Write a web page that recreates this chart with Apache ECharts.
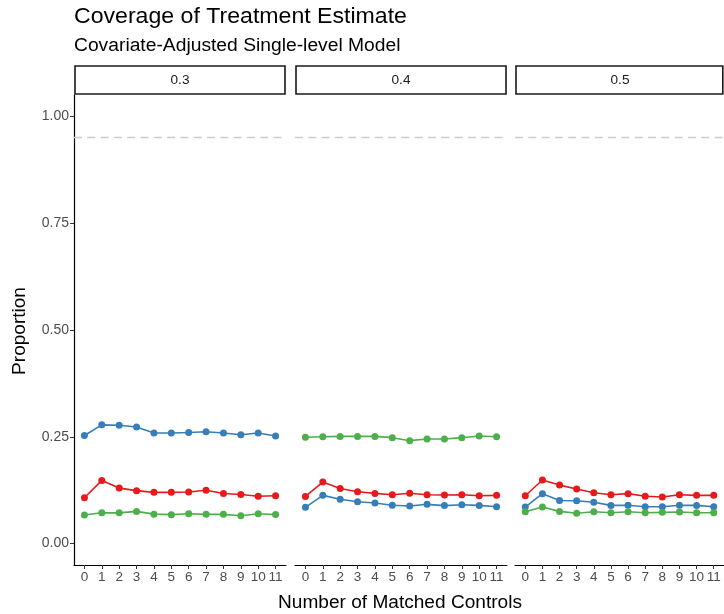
<!DOCTYPE html>
<html>
<head>
<meta charset="utf-8">
<script src="https://cdn.jsdelivr.net/npm/echarts@6/dist/echarts.min.js"></script>
<style>
  html, body { margin: 0; padding: 0; background: #ffffff; }
  #chart { width: 724px; height: 614px; }
</style>
</head>
<body>
<div id="chart"></div>
<script>
// Number of matched controls (x categories) and facet labels
const matchedControls = [0, 1, 2, 3, 4, 5, 6, 7, 8, 9, 10, 11];
const facetLabels = ['0.3', '0.4', '0.5'];
const yTicks = [0, 0.25, 0.5, 0.75, 1];
const nominalCoverage = 0.95;

// Coverage proportions per facet, one array per group
const blueValues = [
  [0.253, 0.278, 0.277, 0.273, 0.259, 0.259, 0.260, 0.262, 0.259, 0.255, 0.259, 0.252],
  [0.085, 0.113, 0.104, 0.098, 0.095, 0.090, 0.088, 0.092, 0.089, 0.091, 0.0895, 0.0865],
  [0.0857, 0.117, 0.101, 0.1005, 0.097, 0.0895, 0.090, 0.0865, 0.0865, 0.090, 0.0895, 0.0865]
];
const redValues = [
  [0.1075, 0.148, 0.130, 0.124, 0.120, 0.120, 0.121, 0.125, 0.1175, 0.115, 0.111, 0.112],
  [0.1106, 0.144, 0.129, 0.1215, 0.1176, 0.1145, 0.118, 0.1145, 0.1137, 0.1145, 0.112, 0.113],
  [0.112, 0.149, 0.137, 0.128, 0.119, 0.1145, 0.117, 0.111, 0.109, 0.1145, 0.113, 0.113]
];
const greenValues = [
  [0.067, 0.0724, 0.072, 0.0755, 0.069, 0.0678, 0.070, 0.0685, 0.0685, 0.0654, 0.070, 0.068],
  [0.249, 0.250, 0.251, 0.251, 0.251, 0.248, 0.241, 0.245, 0.245, 0.248, 0.252, 0.250],
  [0.0748, 0.0857, 0.0755, 0.071, 0.0748, 0.0724, 0.0748, 0.0724, 0.0732, 0.074, 0.0724, 0.0724]
];

const groups = [
  { name: 'blue', color: '#377EB8', values: blueValues },
  { name: 'red', color: '#E41A1C', values: redValues },
  { name: 'green', color: '#4DAF4A', values: greenValues }
];

const FONT = '"Liberation Sans", Arial, sans-serif';
const panels = [
  { left: 74, width: 212 },
  { left: 295, width: 212 },
  { left: 515, width: 210 }
];
const PANEL_TOP = 95;
const PANEL_HEIGHT = 470;

const grid = panels.map(p => ({ left: p.left, top: PANEL_TOP, width: p.width, height: PANEL_HEIGHT }));

const xAxis = panels.map((p, i) => ({
  type: 'value',
  gridIndex: i,
  min: -0.6,
  max: 11.6,
  axisLine: { show: true, onZero: false, lineStyle: { color: '#000000', width: 1.2 } },
  axisTick: { show: true, length: 4, customValues: matchedControls, lineStyle: { color: '#333333', width: 1 } },
  axisLabel: {
    show: true, customValues: matchedControls, color: '#4d4d4d', fontSize: 13.5,
    fontFamily: FONT, margin: 5, showMinLabel: true, showMaxLabel: true
  },
  splitLine: { show: false }
}));

const yAxis = panels.map((p, i) => ({
  type: 'value',
  gridIndex: i,
  min: -0.05,
  max: 1.05,
  axisLine: { show: i === 0, onZero: false, lineStyle: { color: '#000000', width: 1.2 } },
  axisTick: { show: i === 0, length: 4, customValues: yTicks, lineStyle: { color: '#333333', width: 1 } },
  axisLabel: {
    show: i === 0, customValues: yTicks, color: '#4d4d4d', fontSize: 14, fontFamily: FONT, margin: 5,
    formatter: v => v.toFixed(2)
  },
  splitLine: { show: false }
}));

const series = [];
panels.forEach((p, i) => {
  groups.forEach((g, gi) => {
    const s = {
      type: 'line',
      name: g.name,
      xAxisIndex: i,
      yAxisIndex: i,
      data: matchedControls.map((x, k) => [x, g.values[i][k]]),
      symbol: 'circle',
      symbolSize: 7,
      lineStyle: { color: g.color, width: 1.6 },
      itemStyle: { color: g.color },
      animation: false,
      z: 3
    };
    if (gi === 0) {
      s.markLine = {
        silent: true,
        symbol: ['none', 'none'],
        label: { show: false },
        lineStyle: { type: [8, 5.3], color: '#cccccc', width: 1.3 },
        data: [{ yAxis: nominalCoverage }],
        animation: false
      };
    }
    series.push(s);
  });
});

// Facet strips: outlined boxes with the facet label
const graphic = [];
panels.forEach((p, i) => {
  const right = Math.min(p.left + p.width - 1, 722.8);
  graphic.push({
    type: 'rect',
    shape: { x: p.left + 1, y: 66, width: right - p.left - 1, height: 28 },
    style: { fill: '#ffffff', stroke: '#1a1a1a', lineWidth: 1.6 }
  });
  graphic.push({
    type: 'text',
    x: p.left + p.width / 2,
    y: 80,
    scaleX: 1.05,
    style: {
      text: facetLabels[i], fill: '#1a1a1a', font: '13px ' + FONT,
      textAlign: 'center', textVerticalAlign: 'middle'
    }
  });
});

// Titles and axis titles
graphic.push({
  type: 'text', x: 74, y: 17, scaleX: 1.05,
  style: { text: 'Coverage of Treatment Estimate', fill: '#000000', font: '22px ' + FONT, textAlign: 'left', textVerticalAlign: 'middle' }
});
graphic.push({
  type: 'text', x: 74, y: 46, scaleX: 1.07,
  style: { text: 'Covariate-Adjusted Single-level Model', fill: '#000000', font: '18px ' + FONT, textAlign: 'left', textVerticalAlign: 'middle' }
});
graphic.push({
  type: 'text', x: 400, y: 603, scaleX: 1.09,
  style: { text: 'Number of Matched Controls', fill: '#000000', font: '17.5px ' + FONT, textAlign: 'center', textVerticalAlign: 'middle' }
});
graphic.push({
  type: 'text', x: 20, y: 331, rotation: Math.PI / 2, scaleX: 1.087,
  style: { text: 'Proportion', fill: '#000000', font: '17.5px ' + FONT, textAlign: 'center', textVerticalAlign: 'middle' }
});

const chart = echarts.init(document.getElementById('chart'), null, { renderer: 'canvas' });
chart.setOption({
  backgroundColor: '#ffffff',
  animation: false,
  grid,
  xAxis,
  yAxis,
  series,
  graphic
});
</script>
</body>
</html>
